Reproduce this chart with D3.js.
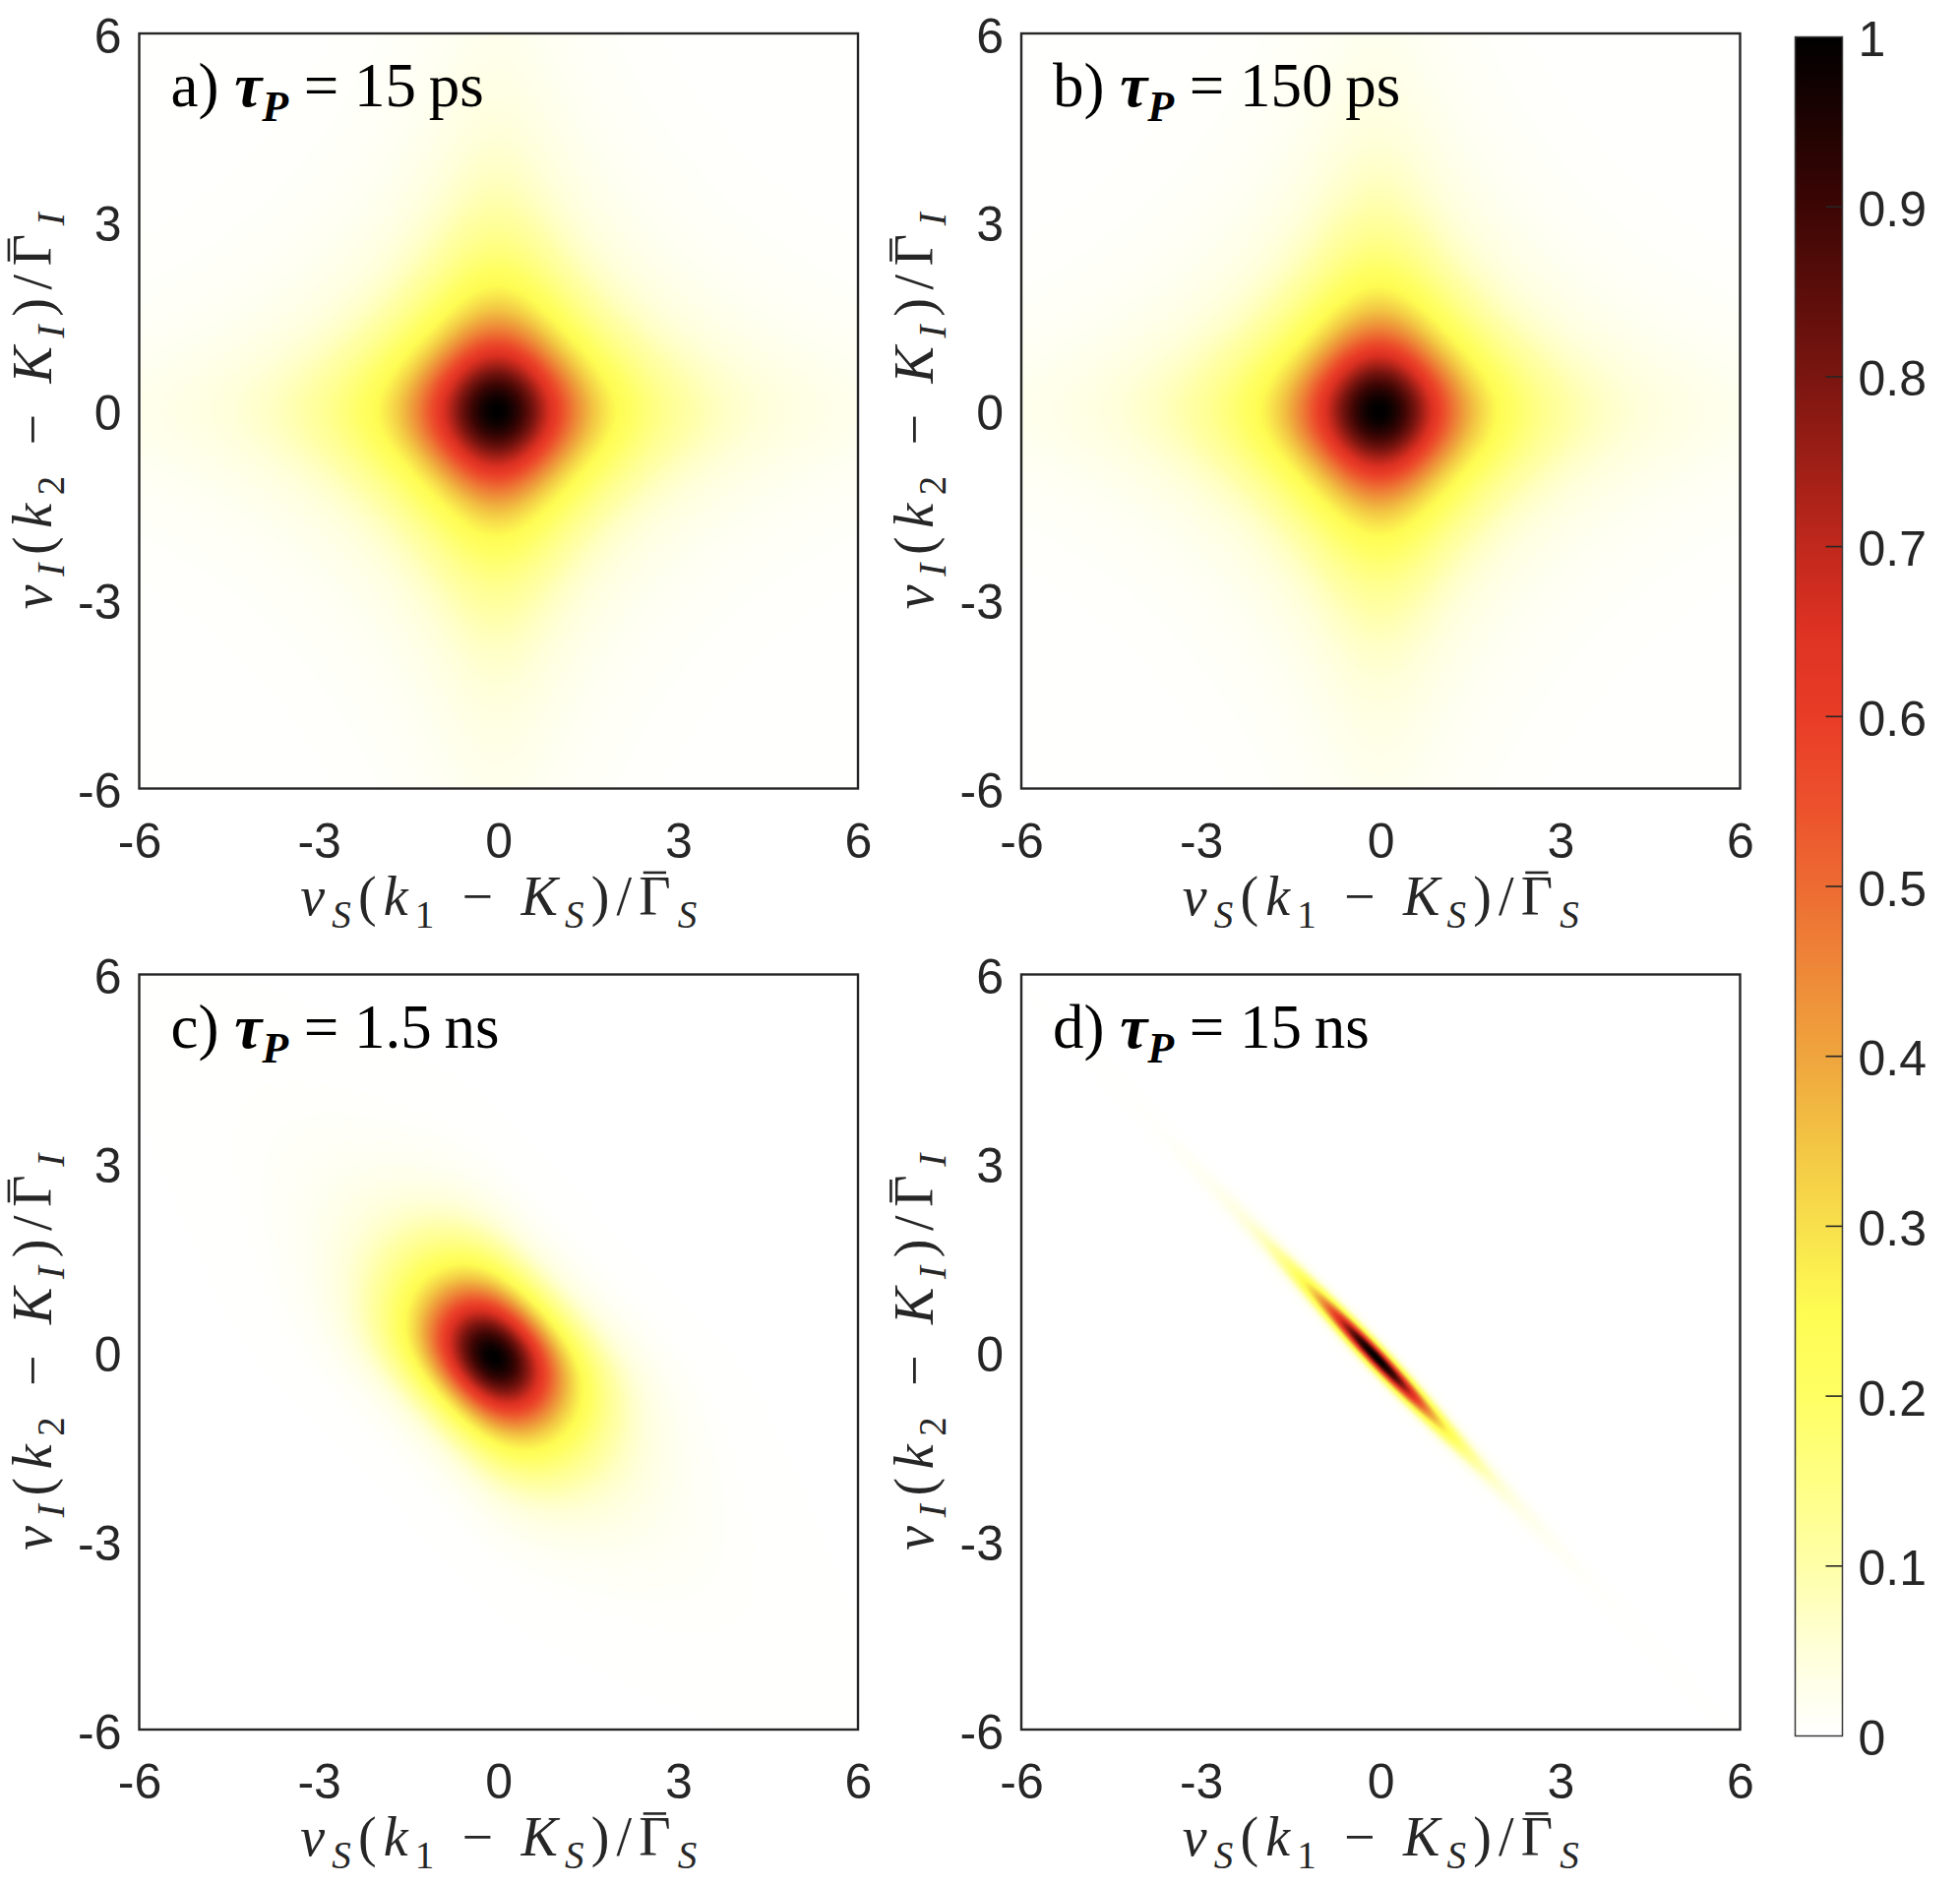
<!DOCTYPE html>
<html>
<head>
<meta charset="utf-8">
<script src="https://cdn.jsdelivr.net/npm/d3@7"></script>
<style>
  body { margin: 0; background: #fff; }
  svg { display: block; }
</style>
</head>
<body>
<div id="chart"></div>
<script>
// panel captions
const panelLetters = ["a)", "b)", "c)", "d)"];
const pumpValues = ["15", "150", "1.5", "15"];
const pumpUnits = ["ps", "ps", "ns", "ns"];

// field parameters (axis units)
const cavityHwhm = [1.4, 1.4, 1.4, 1.4];
const cavityPower = [1.25, 1.25, 1.25, 1.25];
const pumpSigma = [100, 10, 0.9, 0.1];
const peakX = [-0.03, -0.03, -0.08, -0.08];
const peakY = [0, 0, -0.08, -0.08];

const axisTicks = [-6, -3, 0, 3, 6];
const colorTicks = [0, 0.1, 0.2, 0.3, 0.4, 0.5, 0.6, 0.7, 0.8, 0.9, 1];

// colour map of the colour bar
const cmapStops = [0, 0.05, 0.1, 0.15, 0.2, 0.25, 0.3, 0.35, 0.4, 0.45, 0.5, 0.55, 0.6, 0.65, 0.7, 0.8, 0.9, 1];
const cmapColors = ["#ffffff", "#ffffda", "#ffffa8", "#ffff84", "#ffff64", "#fefc52", "#f8e04c", "#f3c443",
  "#efa53d", "#ee8838", "#ed6b32", "#ec502c", "#e93c27", "#de3223", "#c0281c", "#7a1510", "#3c0604", "#000000"];

// label tokens: [text, style] with i = italic, _ = subscript, b = barred
const xLabelTokens = [["v", "i"], ["S", "i_"], ["(", ""], ["k", "i"], ["1", "_"], [" \u2212 ", ""],
  ["K", "i"], ["S", "i_"], [")/", ""], ["\u0393", "b"], ["S", "i_"]];
const yLabelTokens = [["v", "i"], ["I", "i_"], ["(", ""], ["k", "i"], ["2", "_"], [" \u2212 ", ""],
  ["K", "i"], ["I", "i_"], [")/", ""], ["\u0393", "b"], ["I", "i_"]];

const W = 1992, H = 1916;
const panelW = 730.5, panelH = 767.5;
const colLeft = [141.5, 1038];
const rowTop = [34, 990.5];
const bar = { x: 1824.5, w: 48, top: 37.5, bottom: 1764.5 };

const tickFont = "'Liberation Sans', Arial, Helvetica, sans-serif";
const serifFont = "'Liberation Serif', 'Times New Roman', serif";
const ink = "#262626";

const svg = d3
  .select("#chart")
  .append("svg")
  .attr("width", W)
  .attr("height", H);

svg.append("rect").attr("width", W).attr("height", H).attr("fill", "#fff");

const colorScale = d3
  .scaleLinear()
  .domain(cmapStops)
  .range(cmapColors)
  .interpolate(d3.interpolateRgb)
  .clamp(true);

const lut = d3.range(1024).map((i) => d3.rgb(colorScale(i / 1023)));

function field(x, y, p) {
  const a2 = cavityHwhm[p] * cavityHwhm[p];
  const s = pumpSigma[p];
  const cav = Math.pow((1 + (x * x) / a2) * (1 + (y * y) / a2), -cavityPower[p]);
  const pump = Math.exp(-((x + y) * (x + y)) / (4 * s * s));
  return cav * pump;
}

function drawField(g, p, xs, ys) {
  const [px0, px1] = xs.range();
  const [py1, py0] = ys.range();
  const w = Math.round(px1 - px0),
    h = Math.round(py1 - py0);
  const canvas = document.createElement("canvas");
  canvas.width = w;
  canvas.height = h;
  const ctx = canvas.getContext("2d");
  const img = ctx.createImageData(w, h);
  for (let j = 0; j < h; j++) {
    const y = ys.invert(py0 + ((j + 0.5) * (py1 - py0)) / h) - peakY[p];
    for (let i = 0; i < w; i++) {
      const x = xs.invert(px0 + ((i + 0.5) * (px1 - px0)) / w) - peakX[p];
      const v = Math.max(0, Math.min(1, field(x, y, p)));
      const c = lut[Math.round(v * 1023)];
      const k = (j * w + i) * 4;
      img.data[k] = c.r;
      img.data[k + 1] = c.g;
      img.data[k + 2] = c.b;
      img.data[k + 3] = 255;
    }
  }
  ctx.putImageData(img, 0, 0);
  g.append("image")
    .attr("x", px0)
    .attr("y", py0)
    .attr("width", px1 - px0)
    .attr("height", py1 - py0)
    .attr("preserveAspectRatio", "none")
    .attr("href", canvas.toDataURL());
}

// builds a math label inside group lg, centred on its origin
function mathLabel(lg, tokens, size, length) {
  const sub = Math.round(size * 0.7),
    shift = Math.round(size * 0.24);
  const text = lg
    .append("text")
    .attr("text-anchor", "middle")
    .attr("font-family", serifFont)
    .attr("font-size", size)
    .attr("fill", ink);
  let lowered = false,
    idx = 0,
    barIdx = -1;
  tokens.forEach(([txt, style]) => {
    const t = text.append("tspan").text(txt);
    const isSub = style.includes("_");
    if (style.includes("i")) t.attr("font-style", "italic");
    if (style.includes("b")) barIdx = idx;
    if (isSub) t.attr("font-size", sub);
    if (isSub && !lowered) {
      t.attr("dy", shift);
      lowered = true;
    } else if (!isSub && lowered) {
      t.attr("dy", -shift);
      lowered = false;
    }
    idx += txt.length;
  });
  text.attr("textLength", length).attr("lengthAdjust", "spacing");
  if (barIdx >= 0) {
    const e = text.node().getExtentOfChar(barIdx);
    lg.append("line")
      .attr("x1", e.x + e.width * 0.14)
      .attr("x2", e.x + e.width * 0.86)
      .attr("y1", -size * 0.76)
      .attr("y2", -size * 0.76)
      .attr("stroke", ink)
      .attr("stroke-width", 2.6);
  }
}

d3.range(4).forEach((p) => {
  const x0 = colLeft[p % 2],
    y0 = rowTop[Math.floor(p / 2)];
  const xScale = d3.scaleLinear().domain([-6, 6]).range([x0, x0 + panelW]);
  const yScale = d3.scaleLinear().domain([-6, 6]).range([y0 + panelH, y0]);

  const g = svg.append("g");
  drawField(g, p, xScale, yScale);

  g.append("rect")
    .attr("x", x0)
    .attr("y", y0)
    .attr("width", panelW)
    .attr("height", panelH)
    .attr("fill", "none")
    .attr("stroke", ink)
    .attr("stroke-width", 2.4);

  const fmt = (d) => String(d);
  const xAxisG = g
    .append("g")
    .attr("transform", "translate(0," + (y0 + panelH) + ")")
    .call(d3.axisBottom(xScale).tickValues(axisTicks).tickSize(0).tickPadding(34.5).tickFormat(fmt));
  const yAxisG = g
    .append("g")
    .attr("transform", "translate(" + x0 + ",0)")
    .call(d3.axisLeft(yScale).tickValues(axisTicks).tickSize(0).tickPadding(18).tickFormat(fmt));

  [xAxisG, yAxisG].forEach((a) => {
    a.select(".domain").remove();
    a.attr("font-family", tickFont).attr("font-size", 50);
    a.selectAll("text").attr("fill", ink);
  });
  yAxisG.selectAll("text").attr("dy", "0.38em");

  // x label
  const xg = g
    .append("g")
    .attr("transform", "translate(" + (x0 + panelW / 2) + "," + (y0 + panelH + 128) + ")");
  mathLabel(xg, xLabelTokens, 56, 403);

  // y label
  const yg = g
    .append("g")
    .attr("transform", "translate(" + (x0 - 90) + "," + (y0 + panelH / 2) + ") rotate(-90)");
  mathLabel(yg, yLabelTokens, 56, 403);

  // caption
  const t = g
    .append("text")
    .attr("x", x0 + 32)
    .attr("y", y0 + 74)
    .attr("font-family", serifFont)
    .attr("font-size", 63)
    .attr("fill", "#000");
  t.append("tspan").text(panelLetters[p] + " ");
  t.append("tspan").attr("font-style", "italic").attr("font-weight", "bold").text("\u03c4");
  t.append("tspan")
    .attr("font-style", "italic")
    .attr("font-weight", "bold")
    .attr("font-size", 44)
    .attr("dy", 15)
    .text("P");
  t.append("tspan").attr("dy", -15).text(" = " + pumpValues[p] + "\u2009" + pumpUnits[p]);
});

// colour bar
const cScale = d3.scaleLinear().domain([0, 1]).range([bar.bottom, bar.top]);

const grad = svg
  .append("defs")
  .append("linearGradient")
  .attr("id", "cbar")
  .attr("x1", 0)
  .attr("y1", 1)
  .attr("x2", 0)
  .attr("y2", 0);
grad
  .selectAll("stop")
  .data(d3.range(0, 1.0001, 0.01))
  .join("stop")
  .attr("offset", (d) => d)
  .attr("stop-color", (d) => colorScale(d));

svg
  .append("rect")
  .attr("x", bar.x)
  .attr("y", cScale(1))
  .attr("width", bar.w)
  .attr("height", cScale(0) - cScale(1))
  .attr("fill", "url(#cbar)")
  .attr("stroke", "#3a3a3a")
  .attr("stroke-width", 1.5);

svg
  .append("g")
  .selectAll("line")
  .data(colorTicks.slice(1, -1))
  .join("line")
  .attr("x1", bar.x + bar.w - 17)
  .attr("x2", bar.x + bar.w)
  .attr("y1", (d) => cScale(d))
  .attr("y2", (d) => cScale(d))
  .attr("stroke", "#262626")
  .attr("stroke-width", 1.6);

const cAxisG = svg
  .append("g")
  .attr("transform", "translate(" + (bar.x + bar.w) + ",0)")
  .call(d3.axisRight(cScale).tickValues(colorTicks).tickSize(0).tickPadding(16).tickFormat((d) => String(d)));
cAxisG.select(".domain").remove();
cAxisG.attr("font-family", tickFont).attr("font-size", 50);
cAxisG.selectAll("text").attr("fill", ink).attr("dy", "0.38em");
</script>
</body>
</html>
